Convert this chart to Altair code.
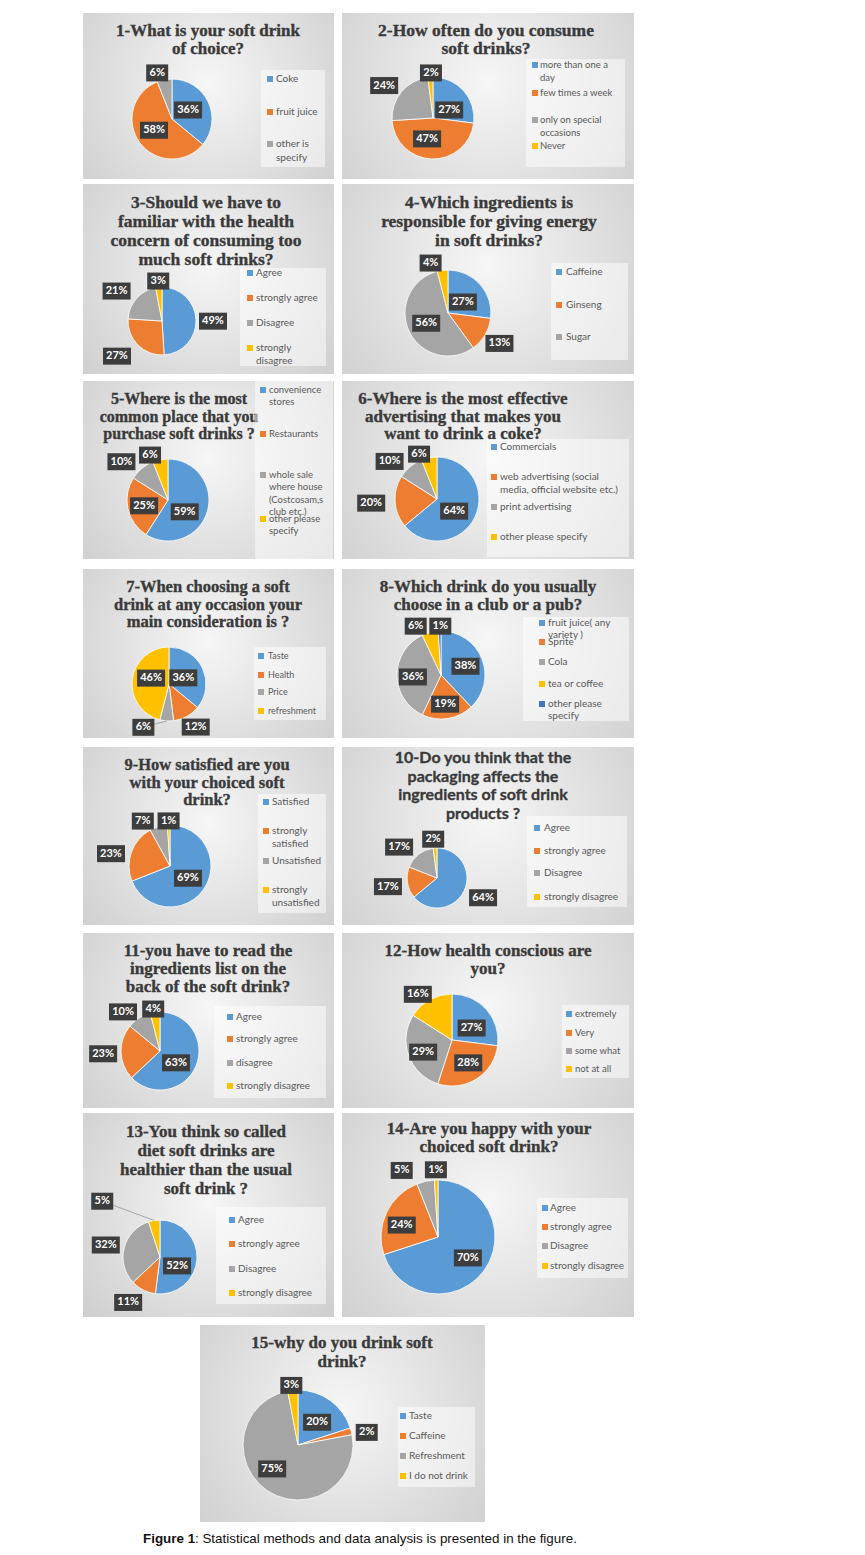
import altair as alt
import pandas as pd

BLUE, ORANGE, GRAY, YELLOW, DBLUE = "#5B9BD5", "#ED7D31", "#A5A5A5", "#FFC000", "#4472C4"

# ---------------- data ----------------
q1_cats = ["Coke", "fruit juice", "other is specify"]
q1_vals = [36, 58, 6]
q2_cats = ["more than one a day", "few times a week", "only on special occasions", "Never"]
q2_vals = [27, 47, 24, 2]
q3_cats = ["Agree", "strongly agree", "Disagree", "strongly disagree"]
q3_vals = [49, 27, 21, 3]
q4_cats = ["Caffeine", "Ginseng", "Sugar", "(unlabelled)"]
q4_vals = [27, 13, 56, 4]
q5_cats = ["convenience stores", "Restaurants", "whole sale where house", "other please specify"]
q5_vals = [59, 25, 10, 6]
q6_cats = ["Commercials", "web advertising", "print advertising", "other please specify"]
q6_vals = [64, 20, 10, 6]
q7_cats = ["Taste", "Health", "Price", "refreshment"]
q7_vals = [36, 12, 6, 46]
q8_cats = ["fruit juice( any variety )", "Sprite", "Cola", "tea or coffee", "other please specify"]
q8_vals = [38, 19, 36, 6, 1]
q9_cats = ["Satisfied", "strongly satisfied", "Unsatisfied", "strongly unsatisfied"]
q9_vals = [69, 23, 7, 1]
q10_cats = ["Agree", "strongly agree", "Disagree", "strongly disagree"]
q10_vals = [64, 17, 17, 2]
q11_cats = ["Agree", "strongly agree", "disagree", "strongly disagree"]
q11_vals = [63, 23, 10, 4]
q12_cats = ["extremely", "Very", "some what", "not at all"]
q12_vals = [27, 28, 29, 16]
q13_cats = ["Agree", "strongly agree", "Disagree", "strongly disagree"]
q13_vals = [52, 11, 32, 5]
q14_cats = ["Agree", "strongly agree", "Disagree", "strongly disagree"]
q14_vals = [70, 24, 5, 1]
q15_cats = ["Taste", "Caffeine", "Refreshment", "I do not drink"]
q15_vals = [20, 2, 75, 3]

C4 = [BLUE, ORANGE, GRAY, YELLOW]

# ---------------- layout (positions / styles only) ----------------
SERIF = "Liberation Serif"
SANS = "Lato"

layouts = [
    dict(W=259, H=171, ox=0, pw=251, ph=166, title=["1-What is your soft drink", "of choice?"], tf=SERIF, ts=17, tlh=18, tx=125, ty=18,
         cx=89, cy=106, r=40, lr=[0.46, 0.53, 1.21], lda=[-4, 4, -7],
         box=(178, 57, 64, 97), sqx=187, ltx=193, lfs=10, llh=14,
         leg=[(0, ["Coke"], 66), (1, ["fruit juice"], 99), (2, ["other is", "specify"], 131)]),
    dict(W=292, H=171, ox=0, pw=292, ph=166, title=["2-How often do you consume", "soft drinks?"], tf=SERIF, ts=17.5, tlh=18, tx=144, ty=18,
         cx=91, cy=105, r=41, lr=[0.44, 0.53, 1.43, 1.10], lda=[15, 14, -6, 1],
         box=(184, 46, 99, 108), sqx=193, ltx=198, lfs=9.5, llh=12.5,
         leg=[(0, ["more than one a", "day"], 52), (1, ["few times a week"], 80), (2, ["only on special", "occasions"], 107), (3, ["Never"], 133)]),
    dict(W=259, H=197, ox=0, pw=251, ph=190, title=["3-Should we have to", "familiar with the health", "concern of consuming too", "much soft drinks?"], tf=SERIF, ts=17.5, tlh=19, tx=123, ty=19,
         cx=79, cy=137, r=34, lr=[1.5, 1.68, 1.6, 1.18], lda=[2, 7, -8, 0],
         box=(157, 84, 86, 98), sqx=167, ltx=173, lfs=10, llh=13,
         leg=[(0, ["Agree"], 89), (1, ["strongly agree"], 114), (2, ["Disagree"], 139), (3, ["strongly", "disagree"], 164)]),
    dict(W=292, H=197, ox=0, pw=292, ph=190, title=["4-Which ingredients is", "responsible for giving energy", "in soft drinks?"], tf=SERIF, ts=17.5, tlh=19, tx=147, ty=19,
         cx=106, cy=129, r=43, lr=[0.43, 1.39, 0.56, 1.23], lda=[5, 0, 0, -12],
         box=(209, 79, 77, 97), sqx=217, ltx=224, lfs=10, llh=13,
         leg=[(0, ["Caffeine"], 88), (1, ["Ginseng"], 121), (2, ["Sugar"], 153)]),
    dict(W=259, H=188, ox=0, pw=251, ph=178, title=["5-Where is the most", "common place that you", "purchase soft drinks ?"], tf=SERIF, ts=16, tlh=17.5, tx=96, ty=18,
         cx=85, cy=119, r=41, lr=[0.5, 0.6, 1.47, 1.18], lda=[19, -1, -11, -11],
         box=(172, 0, 78, 178), sqx=180, ltx=186, lfs=9.5, llh=12.3,
         leg=[(0, ["convenience", "stores"], 9), (1, ["Restaurants"], 53), (2, ["whole sale", "where house", "(Costcosam,s", "club etc.)"], 94), (3, ["other please", "specify"], 138)]),
    dict(W=292, H=188, ox=0, pw=292, ph=178, title=["6-Where is the most effective", "advertising that makes you", "want to drink  a coke?"], tf=SERIF, ts=17, tlh=17.5, tx=121, ty=18,
         cx=95, cy=118, r=42, lr=[0.5, 1.57, 1.44, 1.15], lda=[10, 0, -12, -11],
         box=(145, 58, 142, 118), sqx=152, ltx=158, lfs=10, llh=13,
         leg=[(0, ["Commercials"], 66), (1, ["web advertising (social", "media, official website etc.)"], 96), (2, ["print advertising"], 126), (3, ["other please specify"], 156)]),
    dict(W=259, H=178, ox=0, pw=251, ph=169, title=["7-When choosing a soft", "drink at any occasion your", "main consideration is ?"], tf=SERIF, ts=16.5, tlh=17.5, tx=125, ty=18,
         cx=86, cy=115, r=37, lr=[0.42, 1.37, 1.36, 0.51], lda=[2, -3, 27, 11], lead=[0, 0, 1, 0],
         box=(171, 78, 72, 73), sqx=178, ltx=185, lfs=9, llh=12,
         leg=[(0, ["Taste"], 87), (1, ["Health"], 106), (2, ["Price"], 123), (3, ["refreshment"], 142)]),
    dict(W=292, H=178, ox=0, pw=292, ph=169, title=["8-Which drink do you usually", "choose in a club or a pub?"], tf=SERIF, ts=17, tlh=18, tx=146, ty=18,
         cx=99, cy=106, r=44, lr=[0.59, 0.67, 0.64, 1.25, 1.11], lda=[2, 1, -4, -13, 1],
         box=(181, 48, 106, 104), sqx=200, ltx=206, lfs=10, llh=11.5,
         leg=[(0, ["fruit juice( any", "variety )"], 54), (1, ["Sprite"], 73), (2, ["Cola"], 93), (3, ["tea or coffee"], 115), (4, ["other please", "specify"], 135)]),
    dict(W=259, H=186, ox=0, pw=251, ph=178, title=["9-How satisfied are you", "with your choiced soft", "drink?"], tf=SERIF, ts=16.5, tlh=17.5, tx=124, ty=18,
         cx=87, cy=119, r=41, lr=[0.53, 1.47, 1.28, 1.1], lda=[0, -8, -15, 0],
         box=(175, 47, 68, 119), sqx=183, ltx=189, lfs=10, llh=13,
         leg=[(0, ["Satisfied"], 55), (1, ["strongly", "satisfied"], 84), (2, ["Unsatisfied"], 114), (3, ["strongly", "unsatisfied"], 143)]),
    dict(W=292, H=186, ox=0, pw=292, ph=178, title=["10-Do you think that the", "packaging affects the", "ingredients of soft drink", "products ?"], tf=SANS, ts=16, tlh=18.5, tx=141, ty=11,
         cx=95, cy=131, r=30, lr=[1.67, 1.66, 1.63, 1.3], lda=[-2, -1, -13, -2],
         box=(185, 69, 100, 91), sqx=195, ltx=202, lfs=10, llh=13,
         leg=[(0, ["Agree"], 81), (1, ["strongly agree"], 104), (2, ["Disagree"], 126), (3, ["strongly disagree"], 150)]),
    dict(W=259, H=180, ox=0, pw=251, ph=175, title=["11-you have to read the", "ingredients list on the", "back of the  soft drink?"], tf=SERIF, ts=17, tlh=18, tx=125, ty=18,
         cx=77, cy=118, r=39, lr=[0.51, 1.46, 1.38, 1.09], lda=[13, -1, -11, -2],
         box=(131, 73, 112, 92), sqx=147, ltx=153, lfs=10, llh=13,
         leg=[(0, ["Agree"], 84), (1, ["strongly agree"], 106), (2, ["disagree"], 130), (3, ["strongly disagree"], 153)]),
    dict(W=292, H=180, ox=0, pw=292, ph=175, title=["12-How health conscious are", "you?"], tf=SERIF, ts=17, tlh=18, tx=146, ty=18,
         cx=110, cy=107, r=46, lr=[0.5, 0.61, 0.68, 1.24], lda=[10, -3, -3, -8],
         box=(220, 72, 67, 73), sqx=227, ltx=233, lfs=9.5, llh=12,
         leg=[(0, ["extremely"], 81), (1, ["Very"], 100), (2, ["some what"], 118), (3, ["not at all"], 136)]),
    dict(W=259, H=212, ox=0, pw=251, ph=204, title=["13-You think so called", "diet soft drinks are", "healthier than the usual", "soft drink ?"], tf=SERIF, ts=17, tlh=19, tx=123, ty=19,
         cx=77, cy=144, r=37, lr=[0.52, 1.5, 1.5, 2.17], lda=[24, 8, -2, -37], lead=[0, 0, 0, 1],
         box=(133, 94, 110, 97), sqx=149, ltx=155, lfs=10, llh=13,
         leg=[(0, ["Agree"], 107), (1, ["strongly agree"], 131), (2, ["Disagree"], 156), (3, ["strongly disagree"], 180)]),
    dict(W=292, H=212, ox=0, pw=292, ph=204, title=["14-Are you happy with your", "choiced soft drink?"], tf=SERIF, ts=17, tlh=18, tx=147, ty=16,
         cx=96, cy=124, r=57, lr=[0.64, 0.67, 1.33, 1.18], lda=[-1, -7, -16, 0],
         box=(195, 85, 91, 80), sqx=203, ltx=208, lfs=10, llh=13,
         leg=[(0, ["Agree"], 95), (1, ["strongly agree"], 114), (2, ["Disagree"], 133), (3, ["strongly disagree"], 153)]),
    dict(W=402, H=205, ox=117, pw=285, ph=197, title=["15-why do you drink soft", "drink?"], tf=SERIF, ts=17, tlh=19, tx=142, ty=18,
         cx=98, cy=120, r=55, lr=[0.54, 1.27, 0.64, 1.09], lda=[4, 4, 13, -1],
         box=(198, 82, 77, 80), sqx=203, ltx=209, lfs=10, llh=13,
         leg=[(0, ["Taste"], 91), (1, ["Caffeine"], 111), (2, ["Refreshment"], 131), (3, ["I do not drink"], 151)]),
]

datasets = [
    (q1_cats, q1_vals, [BLUE, ORANGE, GRAY]),
    (q2_cats, q2_vals, C4),
    (q3_cats, q3_vals, C4),
    (q4_cats, q4_vals, C4),
    (q5_cats, q5_vals, C4),
    (q6_cats, q6_vals, C4),
    (q7_cats, q7_vals, C4),
    (q8_cats, q8_vals, [BLUE, ORANGE, GRAY, YELLOW, DBLUE]),
    (q9_cats, q9_vals, C4),
    (q10_cats, q10_vals, C4),
    (q11_cats, q11_vals, C4),
    (q12_cats, q12_vals, C4),
    (q13_cats, q13_vals, C4),
    (q14_cats, q14_vals, C4),
    (q15_cats, q15_vals, C4),
]

BG = {"gradient": "radial", "x1": 0.5, "y1": 0.45, "r1": 0, "x2": 0.5, "y2": 0.45, "r2": 0.78,
      "stops": [{"offset": 0, "color": "#f6f6f6"}, {"offset": 1, "color": "#c8c8c8"}]}


def panel(L, cats, vals, colors):
    ox = L["ox"]
    one = alt.Data(values=[{"a": 1}])
    bg = alt.Chart(one).mark_rect(fill=BG).encode(
        x=alt.value(ox), x2=alt.value(ox + L["pw"]), y=alt.value(0), y2=alt.value(L["ph"]))

    tdf = pd.DataFrame({"t": L["title"], "y": [L["ty"] + i * L["tlh"] for i in range(len(L["title"]))]})
    title = alt.Chart(tdf).mark_text(font=L["tf"], fontSize=L["ts"], fontWeight="bold", color="#3a3a3a",
                                     stroke="#3a3a3a", strokeWidth=0.35,
                                     align="center", baseline="middle").encode(
        x=alt.value(ox + L["tx"]), y=alt.Y("y:Q", scale=None, axis=None), text="t:N")

    cscale = alt.Scale(domain=cats, range=colors)
    lead = L.get("lead", [0] * len(cats))
    df = pd.DataFrame({"cat": cats, "v": vals, "o": list(range(len(cats))), "lr": L["lr"], "lda": L["lda"], "lead": lead})
    cx, cy, r = ox + L["cx"], L["cy"], L["r"]
    arc = alt.Chart(df).mark_arc(radius=r, stroke="white", strokeWidth=0.8).encode(
        theta=alt.Theta("v:Q", stack=True),
        color=alt.Color("cat:N", scale=cscale, legend=None),
        order=alt.Order("o:Q"),
        x=alt.value(cx), y=alt.value(cy))

    lab = alt.Chart(df).transform_window(
        cum="sum(v)", sort=[alt.SortField("o", order="ascending")], frame=[None, 0]
    ).transform_joinaggregate(tot="sum(v)").transform_calculate(
        m="((datum.cum - datum.v/2)/datum.tot)*2*PI",
        lab="datum.v + '%'",
    ).transform_calculate(
        a="datum.m + datum.lda*PI/180",
    ).transform_calculate(
        lx=f"{cx} + datum.lr*{r}*sin(datum.a)",
        ly=f"{cy} - datum.lr*{r}*cos(datum.a)",
        ex=f"{cx} + {r}*sin(datum.m)",
        ey=f"{cy} - {r}*cos(datum.m)",
        bw="10 + 6*length(datum.lab)",
    ).transform_calculate(
        x1="datum.lx - datum.bw/2", x2="datum.lx + datum.bw/2",
        y1="datum.ly - 8.5", y2="datum.ly + 8.5",
    )
    leader = lab.transform_filter("datum.lead == 1").mark_rule(color="#a6a6a6", strokeWidth=1).encode(
        x=alt.X("ex:Q", scale=None, axis=None), x2="lx:Q",
        y=alt.Y("ey:Q", scale=None, axis=None), y2="ly:Q")
    box = lab.mark_rect(color="#3d3d3d").encode(
        x=alt.X("x1:Q", scale=None, axis=None), x2="x2:Q",
        y=alt.Y("y1:Q", scale=None, axis=None), y2="y2:Q")
    txt = lab.mark_text(font=SANS, fontSize=11, fontWeight="bold", color="white",
                        align="center", baseline="middle").encode(
        x=alt.X("lx:Q", scale=None, axis=None), y=alt.Y("ly:Q", scale=None, axis=None), text="lab:N")

    bx, by, bw, bh = L["box"]
    lbox = alt.Chart(one).mark_rect(fill="white", fillOpacity=0.5).encode(
        x=alt.value(ox + bx), x2=alt.value(ox + bx + bw), y=alt.value(by), y2=alt.value(by + bh))
    sq_rows, ln_rows = [], []
    for idx, lines, y0 in L["leg"]:
        sq_rows.append({"cat": cats[idx], "y": y0})
        for j, ln in enumerate(lines):
            ln_rows.append({"t": ln, "y": y0 + j * L["llh"]})
    sq = alt.Chart(pd.DataFrame(sq_rows)).mark_square(size=36, opacity=1).encode(
        x=alt.value(ox + L["sqx"]), y=alt.Y("y:Q", scale=None, axis=None),
        color=alt.Color("cat:N", scale=cscale, legend=None))
    ltxt = alt.Chart(pd.DataFrame(ln_rows)).mark_text(font=SANS, fontSize=L["lfs"], color="#595959",
                                                       align="left", baseline="middle").encode(
        x=alt.value(ox + L["ltx"]), y=alt.Y("y:Q", scale=None, axis=None), text="t:N")

    layers = [bg, title, arc]
    if any(lead):
        layers.append(leader)
    layers += [box, txt, lbox, sq, ltxt]
    return alt.layer(*layers).properties(width=L["W"], height=L["H"])


panels = [panel(L, *d) for L, d in zip(layouts, datasets)]

rows = []
for i in range(0, 14, 2):
    rows.append(alt.hconcat(panels[i], panels[i + 1], spacing=0).resolve_scale(color="independent", theta="independent"))
rows.append(panels[14])

one = alt.Data(values=[{"a": 1}])
cap1 = alt.Chart(one).mark_text(font="Liberation Sans", fontSize=13.4, fontWeight="bold", color="#111",
                                align="left", baseline="middle", text="Figure 1").encode(
    x=alt.value(60), y=alt.value(9))
cap2 = alt.Chart(one).mark_text(font="Liberation Sans", fontSize=13.4, color="#111", align="left", baseline="middle",
                                text=": Statistical methods and data analysis is presented in the figure.").encode(
    x=alt.value(112), y=alt.value(9))
caption = alt.layer(cap1, cap2).properties(width=553, height=20)

chart = alt.vconcat(*rows, caption, spacing=0).resolve_scale(
    color="independent", theta="independent"
).properties(
    padding={"left": 75, "top": 5, "right": 5, "bottom": 5}, background="white"
).configure_view(stroke=None)

chart.save("out.html", embed_options={"renderer": "svg", "actions": False})
